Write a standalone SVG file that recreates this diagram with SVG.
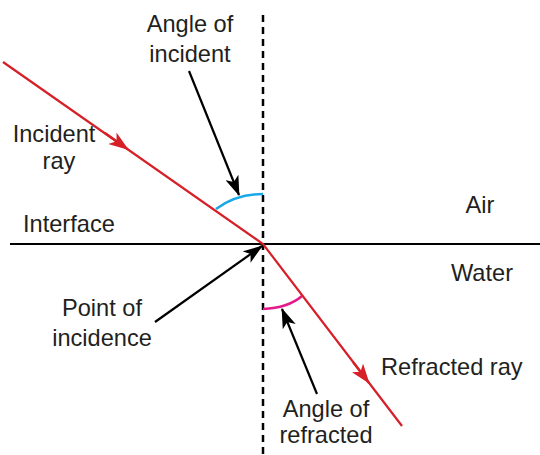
<svg xmlns="http://www.w3.org/2000/svg" width="540" height="455" viewBox="0 0 540 455">
<style>
text{font-family:"Liberation Sans",Arial,sans-serif;font-size:23.6px;fill:#231f20}
.ray{stroke:#d71f27;stroke-width:2.2;fill:none}
.ptr{stroke:#000;stroke-width:2.2;fill:none;marker-end:url(#blk)}
</style>
<defs>
<marker id="red" markerUnits="userSpaceOnUse" markerWidth="20" markerHeight="14" refX="19" refY="7" orient="auto" viewBox="0 0 20 14">
<path d="M0,0 L20,7 L0,14 L5,7 z" fill="#d71f27"/>
</marker>
<marker id="blk" markerUnits="userSpaceOnUse" markerWidth="20" markerHeight="14" refX="19" refY="7" orient="auto" viewBox="0 0 20 14">
<path d="M0,0 L20,7 L0,14 L5,7 z" fill="#000"/>
</marker>
</defs>
<g id="interface-line"><line x1="10" y1="244" x2="540" y2="244" stroke="#000" stroke-width="2.2"/></g>
<g id="normal"><line x1="263" y1="15" x2="263" y2="455" stroke="#000" stroke-width="2.5" stroke-dasharray="7,5"/></g>
<g id="angle-arcs">
<path d="M216,209 Q236,194 263,194" stroke="#1aa7e8" stroke-width="2.5" fill="none"/>
<path d="M263,309 Q288,308 302,296" stroke="#e5198b" stroke-width="2.5" fill="none"/>
</g>
<g id="connectors">
<path class="ray" d="M3,62 L263,244 L402,426"/>
<path class="ray" d="M105,133 L128,149.3" marker-end="url(#red)"/>
<path class="ray" d="M353,362 L369,383" marker-end="url(#red)"/>
<path class="ptr" d="M189,71 L239,195"/>
<path class="ptr" d="M155,322 L262,246"/>
<path class="ptr" d="M317,394 L282,309"/>
</g>
<g id="label-angle-incident"><text x="190" y="32" text-anchor="middle">Angle of</text><text x="190" y="62" text-anchor="middle">incident</text></g>
<g id="label-incident-ray"><text x="54" y="142" text-anchor="middle">Incident</text><text x="59" y="169" text-anchor="middle">ray</text></g>
<g id="label-interface"><text x="23" y="232">Interface</text></g>
<g id="label-air"><text x="480" y="213" text-anchor="middle">Air</text></g>
<g id="label-water"><text x="482" y="281" text-anchor="middle">Water</text></g>
<g id="label-point"><text x="102" y="316" text-anchor="middle">Point of</text><text x="102" y="346" text-anchor="middle">incidence</text></g>
<g id="label-refracted-ray"><text x="381" y="375">Refracted ray</text></g>
<g id="label-angle-refracted"><text x="326" y="417" text-anchor="middle">Angle of</text><text x="326" y="443" text-anchor="middle">refracted</text></g>
</svg>
